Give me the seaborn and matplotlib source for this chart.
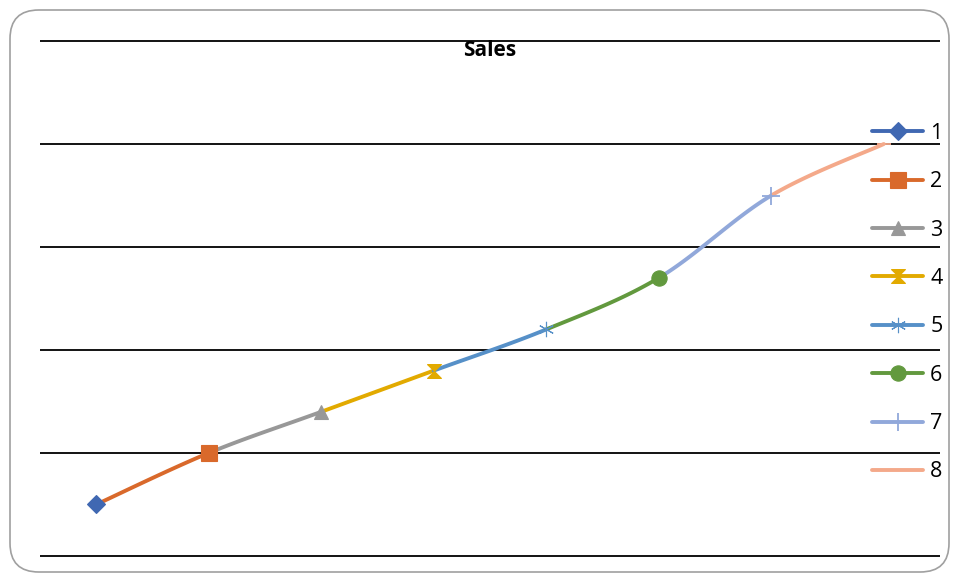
import numpy as np
import pandas as pd
import matplotlib
matplotlib.use("Agg")
import matplotlib.pyplot as plt
from matplotlib.lines import Line2D
from matplotlib.patches import FancyBboxPatch
import seaborn as sns

# ---- data ----
categories = [1, 2, 3, 4, 5, 6, 7, 8]
sales = [0.5, 1.0, 1.4, 1.8, 2.2, 2.7, 3.5, 4.0]
series_labels = ["1", "2", "3", "4", "5", "6", "7", "8"]
colors = ["#4068B2", "#D9692B", "#989898", "#E2AA00",
          "#5690C8", "#62993E", "#91A8DA", "#F4A98A"]
title = "Sales"

hourglass = [(-1, 1), (1, 1), (0, 0), (1, -1), (-1, -1), (0, 0), (-1, 1)]
markers = ["D", "s", "^", hourglass, (6, 2, 0), "o", "+", "_"]
msizes = [9, 11, 10, 10, 11, 11, 13, 10]

sns.set_theme(style="white")
plt.rcParams['font.family'] = ['Open Sans', 'DejaVu Sans']
plt.rcParams['text.color'] = 'black'

fig = plt.figure(figsize=(9.59, 5.82), dpi=100)
ax = fig.add_axes([40/959, 1-557/582, 900/959, 517/582])

# Excel-like smoothing (cubic Bezier / Catmull-Rom) between consecutive points
x = np.array(categories, dtype=float)
y = np.array(sales, dtype=float)
n = len(x)
t = np.linspace(0, 1, 40)
for i in range(n - 1):
    p0 = np.array([x[max(i-1, 0)], y[max(i-1, 0)]])
    p1 = np.array([x[i], y[i]])
    p2 = np.array([x[i+1], y[i+1]])
    p3 = np.array([x[min(i+2, n-1)], y[min(i+2, n-1)]])
    c1 = p1 + (p2 - p0) / 6.0
    c2 = p2 - (p3 - p1) / 6.0
    bx = ((1-t)**3)*p1[0] + 3*((1-t)**2)*t*c1[0] + 3*(1-t)*t**2*c2[0] + t**3*p2[0]
    by = ((1-t)**3)*p1[1] + 3*((1-t)**2)*t*c1[1] + 3*(1-t)*t**2*c2[1] + t**3*p2[1]
    seg = pd.DataFrame({"x": bx, "y": by})
    sns.lineplot(data=seg, x="x", y="y", ax=ax, color=colors[i+1], lw=2.8,
                 sort=False, estimator=None, solid_capstyle="round")

for i in range(n):
    ax.plot([x[i]], [y[i]], marker=markers[i], color=colors[i], ms=msizes[i],
            mew=1.3 if markers[i] in ("+", "_") else 0.8, mec=colors[i], ls="none", zorder=5)

ax.set_xlim(0.5, 8.5)
ax.set_ylim(-0.01, 5.01)
ax.set_yticks([0, 1, 2, 3, 4, 5])
ax.set_xticks([])
ax.yaxis.grid(True, color="black", lw=1.3)
ax.set_yticklabels([])
ax.tick_params(left=False, bottom=False)
for s in ax.spines.values():
    s.set_visible(False)
ax.set_xlabel("")
ax.set_ylabel("")
ax.patch.set_alpha(0)

fig.text(490/959, 1-51/582, title, ha="center", va="center", fontsize=15,
         fontweight="bold", color="black")

handles = [Line2D([0], [0], color=colors[i], lw=2.8, marker=markers[i],
                  ms=msizes[i], mec=colors[i], mfc=colors[i],
                  mew=1.3 if markers[i] in ("+", "_") else 0.8)
           for i in range(n)]
leg = fig.legend(handles, series_labels, loc="upper left",
                 bbox_to_anchor=(872/959, 1-123/582), frameon=False,
                 fontsize=15.5, handlelength=2.37, handletextpad=0.33,
                 labelspacing=1.27, borderpad=0, borderaxespad=0,
                 labelcolor="black")

frame = FancyBboxPatch((10/959, 10/582), 939/959, 562/582,
                       boxstyle="round,pad=0,rounding_size=0.03",
                       transform=fig.transFigure, fill=False,
                       edgecolor="#A0A0A0", lw=1.2,
                       mutation_aspect=959/582)
fig.patches.append(frame)

fig.savefig("out.png", dpi=100)
